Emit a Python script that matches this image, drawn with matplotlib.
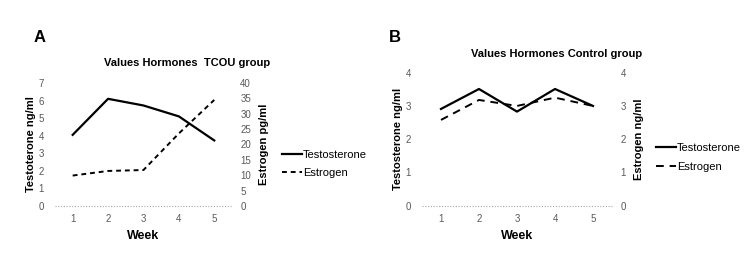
import matplotlib
matplotlib.use('Agg')
import matplotlib.pyplot as plt

plt.rcParams.update({'font.family': 'Liberation Sans'})

weeks = [1, 2, 3, 4, 5]

# panel A - TCOU group
tcou_testo = [4.05, 6.1, 5.72, 5.1, 3.73]
tcou_estro = [9.9, 11.4, 11.7, 23.6, 34.5]

# panel B - control group
ctrl_testo = [2.91, 3.51, 2.83, 3.51, 3.0]
ctrl_estro = [2.58, 3.18, 3.0, 3.25, 3.0]

tick_color = '#595959'

fig = plt.figure(figsize=(7.49, 2.56), dpi=100)


def setup(ax, ymax, step, pad):
    ax.set_xlim(0.5, 5.5)
    ax.set_ylim(0, ymax)
    ax.set_yticks(range(0, ymax + 1, step))
    for s in ax.spines.values():
        s.set_visible(False)
    ax.tick_params(length=0, labelsize=7, colors=tick_color, pad=pad)


def panel(rect, letter, title, title_xy, testo, estro, lmax, rmax, rstep,
          llabel, rlabel, dashes, letter_x, leg_x, leg_y):
    ax = fig.add_axes(rect)
    ax2 = ax.twinx()
    setup(ax, lmax, 1, 8)
    setup(ax2, rmax, rstep, 6)
    ax.tick_params(axis='x', pad=6)
    ax.set_xticks(weeks)
    ax.axhline(0, color='#a6a6a6', lw=0.8, ls=(0, (1, 1.5)), zorder=0,
               clip_on=False)
    l1, = ax.plot(weeks, testo, color='black', lw=1.6, label='Testosterone')
    l2, = ax2.plot(weeks, estro, color='black', lw=1.4, dashes=dashes,
                   label='Estrogen')
    fig.text(title_xy[0], title_xy[1], title, fontsize=8, fontweight='bold',
             ha='center', va='center')
    ax.set_ylabel(llabel, fontsize=8, fontweight='bold', labelpad=2)
    ax2.set_ylabel(rlabel, fontsize=8, fontweight='bold', labelpad=6)
    ax.set_xlabel('Week', fontsize=9, fontweight='bold', labelpad=4)
    fig.text(letter_x, 0.855, letter, fontsize=12, fontweight='bold',
             ha='center', va='center')
    fig.legend(handles=[l1, l2], loc='center left', frameon=False,
               bbox_to_anchor=(leg_x, leg_y), fontsize=8,
               handlelength=1.8, handletextpad=0.1, labelspacing=0.75)
    return ax


panel([0.0734, 0.1953, 0.2363, 0.4805], 'A', 'Values Hormones  TCOU group',
      (0.2497, 0.754), tcou_testo, tcou_estro, 7, 40, 5,
      'Testoterone ng/ml', 'Estrogen pg/ml', (2.5, 2), 0.053, 0.3627, 0.36)

panel([0.5634, 0.1965, 0.2537, 0.5195], 'B', 'Values Hormones Control group',
      (0.7437, 0.789), ctrl_testo, ctrl_estro, 4, 4, 1,
      'Testosterone ng/ml', 'Estrogen ng/ml', (4, 3), 0.527, 0.862, 0.385)

fig.savefig('out.png', dpi=100)
